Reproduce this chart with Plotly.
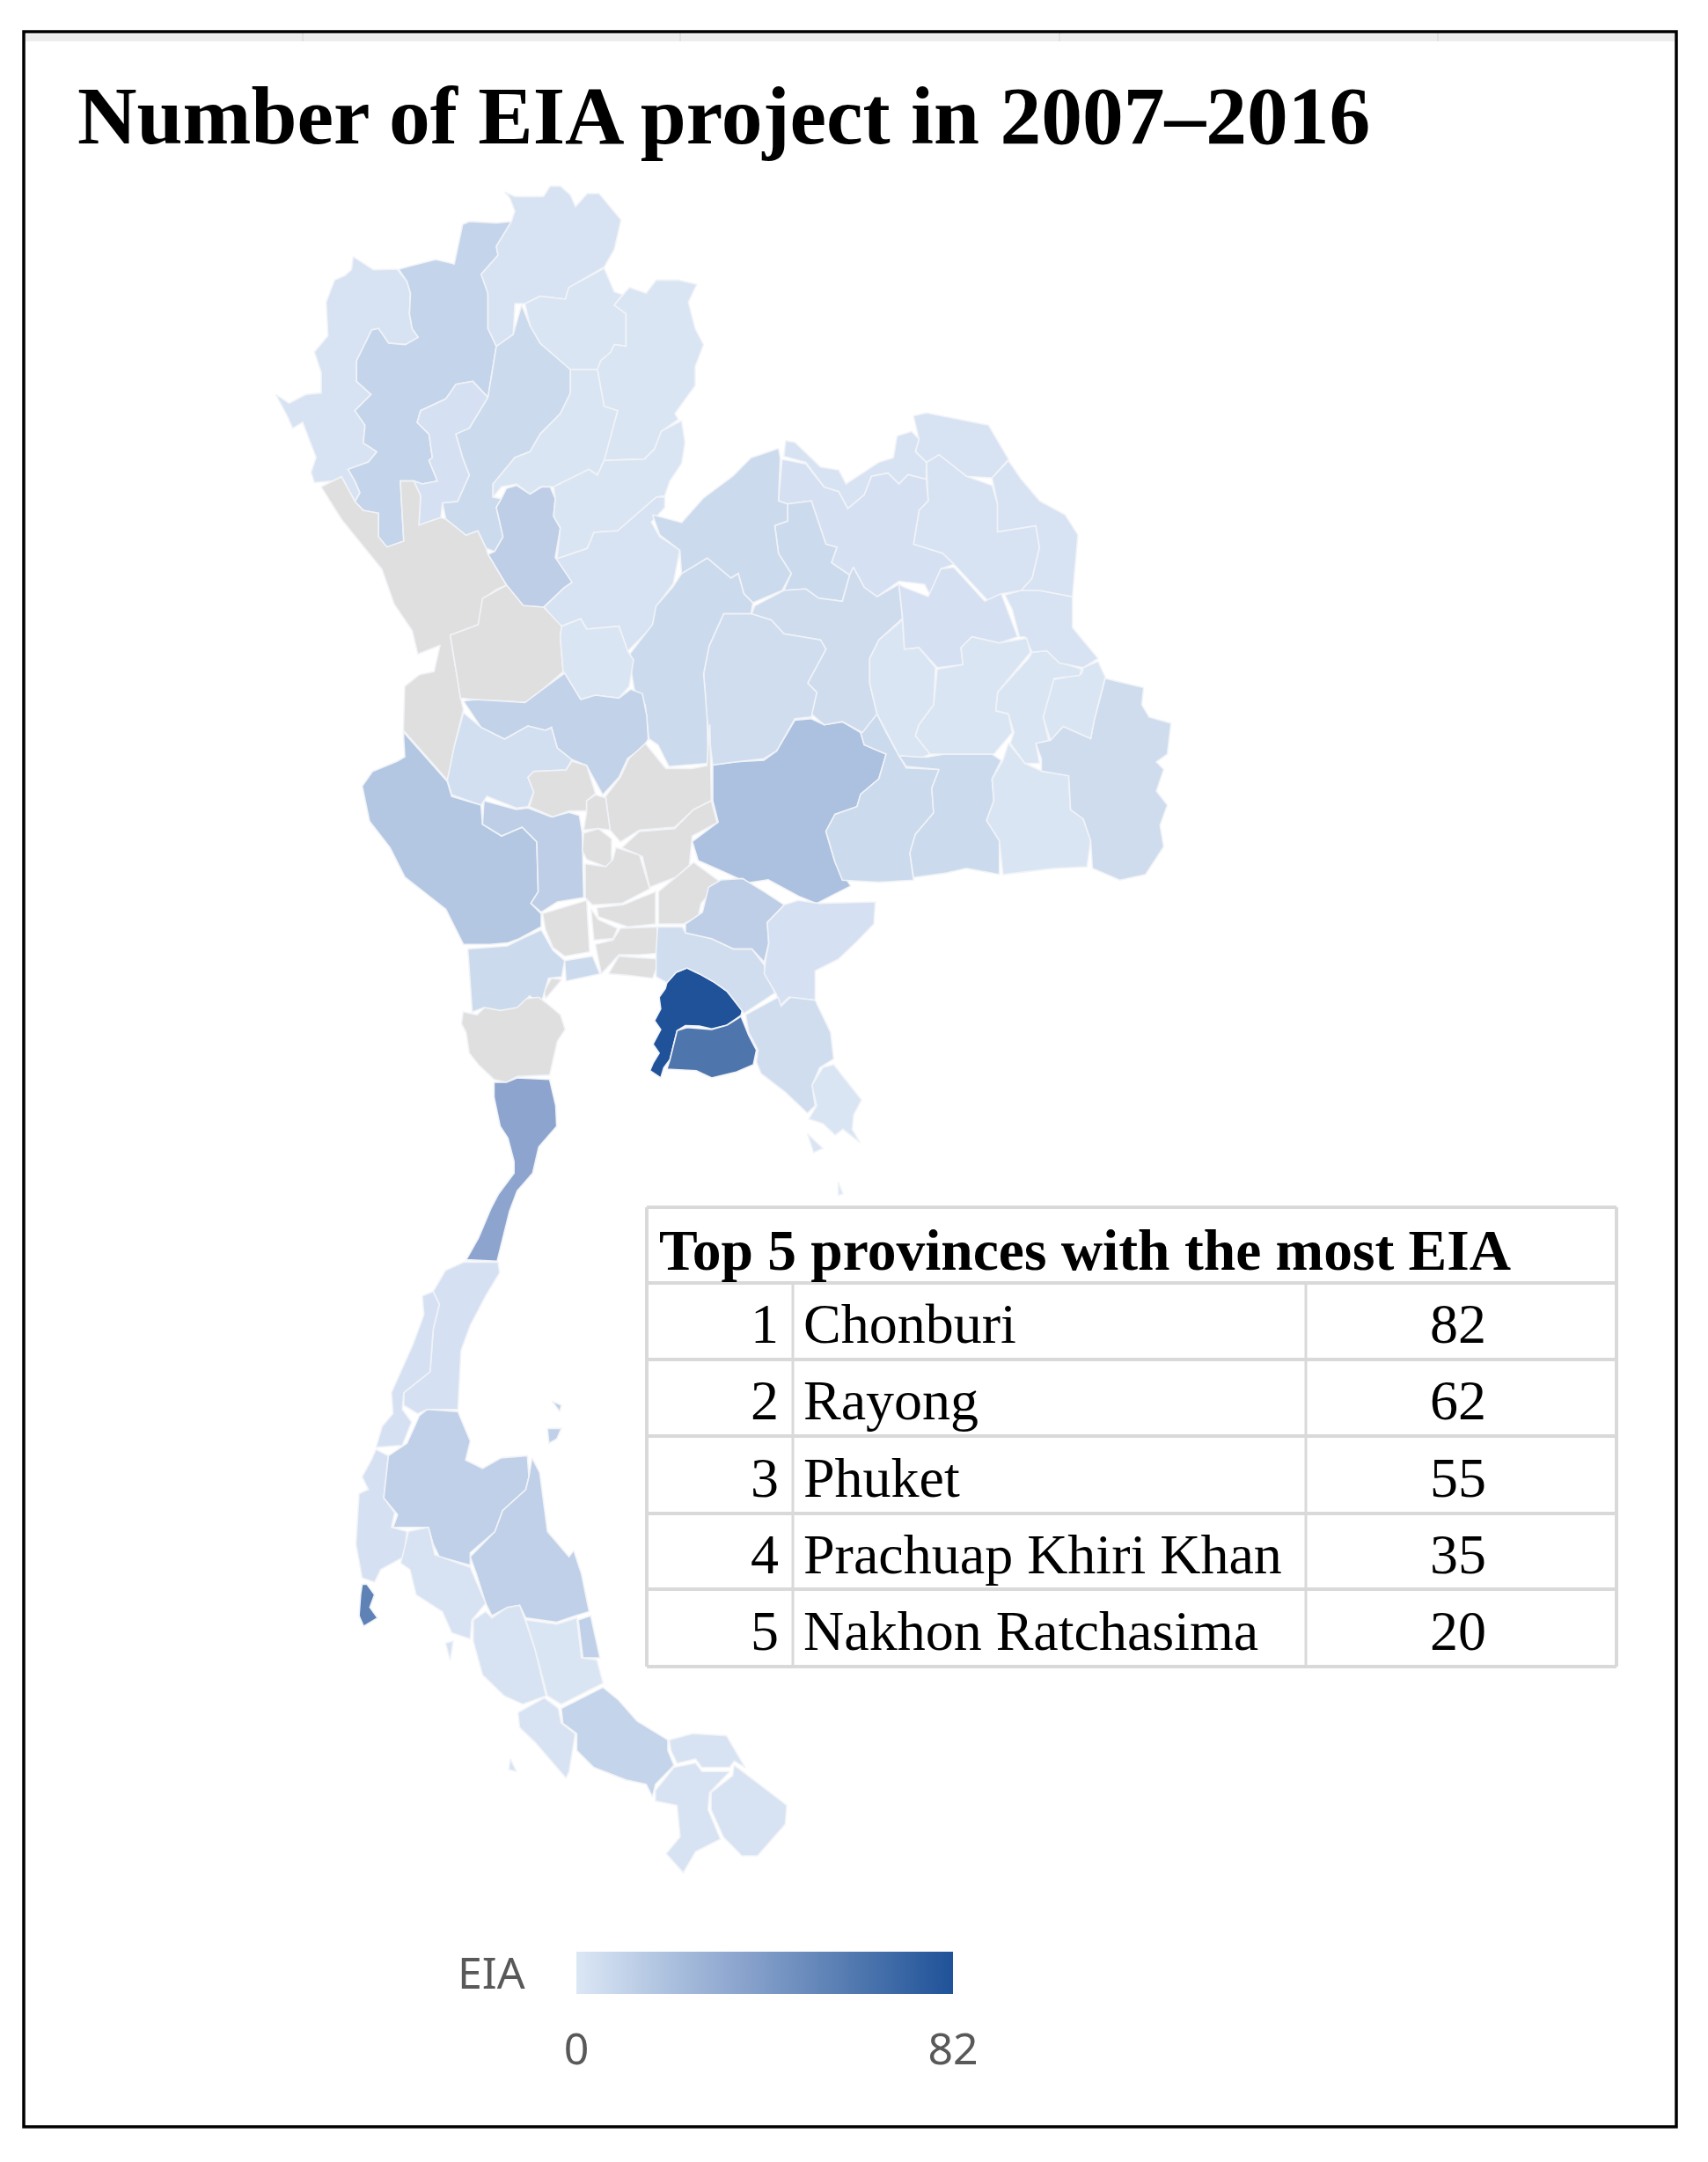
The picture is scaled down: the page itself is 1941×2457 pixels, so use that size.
import plotly.graph_objects as go
from plotly.colors import sample_colorscale

# page is drawn in reference pixels
PAGE_W = 1941
PAGE_H = 2457

TITLE = "Number of EIA project in 2007–2016"
TABLE_TITLE = "Top 5 provinces with the most EIA"
TOP_RANK = [1, 2, 3, 4, 5]
TOP_NAMES = ["Chonburi", "Rayong", "Phuket", "Prachuap Khiri Khan", "Nakhon Ratchasima"]
TOP_VALUES = [82, 62, 55, 35, 20]

# None = no data (grey on the map)
EIA = {
    "Mae Hong Son": 2, "Chiang Mai": 10, "Lamphun": 3, "Lampang": 7, "Chiang Rai": 2,
    "Phayao": 1, "Nan": 1, "Phrae": 1, "Sukhothai": 13, "Uttaradit": 1, "Phitsanulok": 2,
    "Tak": None, "Kamphaeng Phet": None, "Phichit": 1, "Nakhon Sawan": 11, "Uthai Thani": 4,
    "Kanchanaburi": 17, "Suphan Buri": 13, "Chai Nat": None, "Lopburi": None, "Sing Buri": None,
    "Ang Thong": None, "Ayutthaya": None, "Saraburi": None, "Nakhon Nayok": None,
    "Pathum Thani": None, "Nonthaburi": None, "Nakhon Pathom": None, "Bangkok": None,
    "Samut Prakan": None, "Samut Sakhon": 7, "Samut Songkhram": None, "Ratchaburi": 7,
    "Phetchaburi": None, "Prachuap Khiri Khan": 35, "Chonburi": 82, "Rayong": 62,
    "Chachoengsao": 5, "Prachinburi": 13, "Sa Kaeo": 3, "Chanthaburi": 5, "Trat": 1,
    "Ko Chang": 1, "Ko Kut": 1, "Nakhon Ratchasima": 20, "Buriram": 7, "Surin": 7,
    "Si Sa Ket": 1, "Ubon Ratchathani": 6, "Amnat Charoen": 1, "Yasothon": 1, "Mukdahan": 2,
    "Sakon Nakhon": 2, "Nakhon Phanom": 2, "Bueng Kan": 2, "Nong Khai": 2, "Udon Thani": 3,
    "Nong Bua Lamphu": 7, "Loei": 7, "Khon Kaen": 6, "Chaiyaphum": 5, "Phetchabun": 7,
    "Maha Sarakham": 1, "Kalasin": 3, "Roi Et": 1, "Chumphon": 3, "Ranong": 3, "Phang Nga": 3,
    "Surat Thani": 12, "Ko Samui": 12, "Ko Pha Ngan": 12, "Nakhon Si Thammarat": 12,
    "Krabi": 2, "Ko Lanta": 2, "Trang": 2, "Phatthalung": 1, "Songkhla Lake": 12, "Satun": 2,
    "Ko Tarutao": 2, "Songkhla": 10, "Pattani": 2, "Yala": 2, "Narathiwat": 2, "Phuket": 55,
}

# outlines were traced on zoomed crops: left, top, x zoom, y zoom of each crop
CROPS = {
    "north": (300, 200, 2.613, 3.0),
    "isan": (700, 450, 2.41, 2.85),
    "central": (380, 680, 3.0, 3.0),
    "east": (500, 1000, 2.85, 3.0),
    "south": (380, 1420, 2.85, 2.09),
}

NORTH = {
    "Mae Hong Son": [(265,275),(325,320),(395,318),(425,360),(435,400),(432,470),(440,520),(458,550),(420,575),(370,570),(340,520),(320,525),(275,630),(275,700),(318,745),(270,800),(300,850),(295,910),(335,940),(310,975),(250,1000),(270,1040),(285,1080),(270,1110),(230,1025),(205,1040),(150,1045),(140,1010),(155,960),(125,870),(115,840),(85,860),(70,820),(35,745),(75,775),(125,745),(170,740),(170,670),(150,600),(190,545),(185,430),(210,355),(240,340),(260,320)],
    "Chiang Mai": [(400,318),(440,305),(510,285),(565,300),(590,165),(610,155),(690,160),(735,155),(690,240),(695,270),(645,335),(665,400),(665,520),(690,580),(680,650),(665,755),(620,700),(570,710),(540,760),(465,800),(455,840),(490,880),(500,960),(490,970),(515,1040),(470,1050),(445,1040),(405,1040),(415,1245),(365,1265),(340,1230),(340,1150),(295,1140),(270,1110),(285,1080),(270,1040),(250,1000),(310,975),(335,940),(295,910),(300,850),(270,800),(318,745),(275,700),(275,630),(320,525),(340,520),(370,570),(420,575),(458,550),(440,520),(432,470),(435,400),(425,360)],
    "Lamphun": [(570,710),(620,700),(665,755),(610,860),(570,880),(590,960),(610,1020),(575,1110),(530,1115),(525,1165),(460,1190),(465,1090),(445,1040),(470,1050),(515,1040),(490,970),(500,960),(490,880),(455,840),(465,800),(540,760)],
    "Lampang": [(765,440),(790,510),(820,570),(910,660),(910,740),(880,810),(820,880),(790,940),(745,960),(680,1050),(680,1095),(705,1100),(690,1130),(710,1230),(685,1280),(660,1270),(635,1210),(600,1225),(540,1170),(530,1115),(575,1110),(610,1020),(590,960),(570,880),(610,860),(665,755),(680,650),(690,580),(740,540)],
    "Chiang Rai": [(715,55),(745,70),(830,70),(850,35),(880,35),(910,65),(925,105),(960,60),(995,60),(1060,150),(1040,250),(1010,310),(905,380),(895,420),(820,410),(775,435),(745,435),(740,540),(690,580),(665,520),(665,400),(645,335),(695,270),(690,240),(735,155),(745,120),(730,75)],
    "Phayao": [(775,435),(820,410),(895,420),(905,380),(1010,315),(1040,395),(1065,405),(1040,440),(1075,470),(1075,580),(1040,575),(1030,600),(1000,630),(990,660),(910,660),(820,570),(790,510)],
    "Nan": [(1085,380),(1135,400),(1165,355),(1230,355),(1285,370),(1260,430),(1280,520),(1305,575),(1280,650),(1280,715),(1220,810),(1230,830),(1180,870),(1160,930),(1130,965),(1010,970),(1050,800),(1010,785),(990,660),(1000,630),(1030,600),(1040,575),(1075,580),(1075,470),(1040,440),(1065,405)],
    "Phrae": [(910,660),(990,660),(1010,785),(1050,800),(1010,970),(990,1020),(965,1000),(860,1060),(820,1060),(790,1085),(750,1050),(705,1060),(680,1095),(680,1050),(745,960),(790,940),(820,880),(880,810),(910,740)],
    "Sukhothai": [(720,1065),(750,1055),(790,1085),(825,1060),(850,1060),(865,1100),(860,1160),(880,1200),(865,1300),(915,1385),(890,1405),(830,1470),(770,1465),(720,1395),(665,1290),(685,1280),(710,1230),(690,1130),(705,1100)],
    "Uttaradit": [(860,1060),(965,1000),(990,1020),(1010,970),(1130,965),(1160,930),(1180,870),(1240,835),(1250,910),(1240,980),(1205,1040),(1190,1090),(1165,1095),(1050,1210),(980,1215),(960,1270),(870,1305),(880,1200),(860,1160),(865,1100)],
    "Phitsanulok": [(870,1305),(960,1270),(980,1215),(1050,1210),(1165,1095),(1190,1095),(1190,1130),(1150,1180),(1175,1230),(1235,1275),(1215,1390),(1170,1460),(1158,1530),(1080,1620),(1054,1535),(958,1545),(941,1510),(880,1535),(832,1470),(890,1405),(915,1385),(865,1300)],
    "Tak": [(170,1060),(205,1040),(230,1025),(270,1110),(295,1140),(340,1150),(340,1230),(365,1265),(415,1245),(405,1040),(445,1040),(465,1090),(460,1190),(525,1165),(540,1170),(600,1225),(635,1210),(660,1270),(665,1290),(720,1395),(690,1410),(653,1440),(636,1530),(553,1565),(584,1780),(592,1820),(566,1940),(545,2060),(414,1890),(418,1740),(462,1700),(505,1690),(523,1600),(457,1630),(440,1550),(387,1460),(350,1340),(300,1270),(230,1170)],
}

ISAN = {
    "Nakhon Ratchasima": [(265,1195),(330,1185),(405,1180),(440,1150),(490,1050),(535,1045),(570,1065),(620,1055),(670,1090),(680,1130),(740,1160),(720,1240),(670,1290),(660,1330),(600,1355),(575,1410),(600,1510),(643,1587),(549,1644),(500,1620),(417,1567),(361,1577),(281,1534),(225,1505),(209,1443),(280,1380),(265,1310)],
    "Buriram": [(715,1030),(740,1090),(775,1165),(795,1205),(885,1210),(865,1270),(870,1350),(820,1420),(805,1480),(815,1568),(720,1575),(620,1568),(600,1510),(575,1410),(600,1355),(660,1330),(670,1290),(720,1240),(740,1160),(680,1130),(670,1090)],
    "Surin": [(885,1210),(795,1200),(775,1165),(850,1170),(900,1160),(1030,1160),(1055,1180),(1030,1240),(1035,1310),(1015,1375),(1050,1440),(1050,1550),(960,1530),(905,1545),(815,1560),(805,1480),(820,1420),(870,1350),(865,1270)],
    "Si Sa Ket": [(1060,1180),(1075,1125),(1120,1190),(1165,1215),(1240,1230),(1245,1340),(1280,1370),(1300,1440),(1290,1525),(1200,1530),(1060,1550),(1050,1440),(1015,1375),(1035,1310),(1030,1240)],
    "Ubon Ratchathani": [(1150,1125),(1190,1115),(1225,1070),(1300,1110),(1310,1050),(1340,915),(1445,945),(1440,1000),(1460,1040),(1520,1060),(1510,1160),(1480,1185),(1500,1210),(1480,1280),(1510,1325),(1490,1390),(1500,1460),(1450,1550),(1380,1568),(1305,1530),(1300,1440),(1280,1370),(1245,1340),(1240,1230),(1165,1215),(1165,1175)],
    "Amnat Charoen": [(1195,920),(1275,900),(1280,880),(1320,860),(1340,910),(1310,1050),(1300,1110),(1225,1070),(1190,1115),(1170,1040)],
    "Yasothon": [(1140,830),(1180,825),(1210,860),(1275,885),(1270,905),(1200,915),(1170,1040),(1185,1115),(1150,1125),(1160,1190),(1120,1190),(1080,1125),(1090,1090),(1075,1030),(1040,1020),(1045,960),(1130,850)],
    "Mukdahan": [(1065,645),(1110,630),(1160,630),(1250,650),(1250,750),(1320,850),(1280,880),(1215,865),(1180,825),(1140,830),(1120,780),(1105,780),(1085,690)],
    "Sakon Nakhon": [(815,480),(830,370),(855,340),(850,215),(885,190),(960,260),(1030,290),(1045,350),(1045,440),(1150,420),(1160,490),(1140,590),(1110,630),(1060,640),(1020,665),(970,600),(930,550),(895,510)],
    "Nakhon Phanom": [(1030,265),(1075,210),(1110,270),(1160,340),(1230,385),(1265,450),(1250,650),(1160,630),(1110,630),(1140,590),(1160,490),(1150,420),(1045,440),(1045,350)],
    "Bueng Kan": [(815,65),(850,55),(1020,95),(1075,205),(1030,265),(960,260),(885,190),(850,215),(820,180),(830,140)],
    "Nong Khai": [(465,145),(490,150),(560,230),(610,240),(630,285),(720,215),(760,200),(770,130),(810,115),(830,140),(820,180),(850,215),(850,270),(800,255),(775,285),(745,250),(700,260),(680,320),(635,365),(610,310),(570,295),(520,215),(460,195)],
    "Udon Thani": [(455,205),(520,220),(570,295),(610,310),(635,365),(680,320),(700,260),(745,250),(775,285),(800,255),(850,270),(855,340),(830,370),(815,480),(895,510),(925,545),(890,560),(865,655),(845,610),(775,600),(715,650),(680,620),(650,555),(640,580),(590,540),(605,490),(575,480),(535,340),(470,350),(445,340)],
    "Nong Bua Lamphu": [(470,350),(535,340),(575,480),(605,490),(590,540),(640,580),(620,665),(555,655),(520,625),(460,630),(480,575),(445,510),(435,420),(470,405)],
    "Loei": [(100,385),(180,410),(240,330),(320,260),(370,200),(445,170),(450,200),(445,340),(470,350),(470,405),(435,420),(445,510),(480,575),(455,630),(375,670),(350,640),(335,575),(315,590),(250,525),(180,580),(175,500),(120,450)],
    "Khon Kaen": [(380,680),(460,630),(520,625),(555,655),(620,665),(640,580),(650,555),(680,620),(715,650),(775,610),(785,720),(720,790),(695,850),(695,930),(715,1030),(675,1090),(620,1055),(570,1065),(535,1030),(550,960),(525,930),(575,820),(560,790),(460,770),(425,725),(370,710)],
    "Chaiyaphum": [(295,705),(370,705),(425,725),(460,770),(560,790),(575,820),(525,930),(550,960),(535,1040),(490,1045),(440,1150),(405,1175),(330,1185),(265,1195),(250,1050),(240,1020),(245,970),(240,900),(255,810)],
    "Phetchabun": [(180,575),(250,525),(315,590),(335,575),(350,640),(375,670),(370,705),(295,705),(255,810),(240,900),(245,970),(250,1050),(252,1190),(145,1200),(115,1130),(90,1110),(80,1000),(50,950),(35,840),(100,740),(110,680),(155,620)],
    "Maha Sarakham": [(785,725),(790,820),(830,815),(875,880),(870,1000),(830,1065),(820,1100),(860,1160),(840,1170),(775,1165),(715,1030),(695,930),(695,850),(720,790)],
    "Kalasin": [(790,620),(855,650),(890,560),(925,555),(1010,665),(1055,640),(1100,780),(1050,800),(975,780),(945,815),(950,870),(880,880),(830,815),(790,820),(785,720),(775,610)],
    "Roi Et": [(880,885),(950,870),(945,815),(975,780),(1050,800),(1125,785),(1135,830),(1045,960),(1040,1020),(1075,1030),(1085,1090),(1035,1160),(900,1160),(860,1160),(820,1100),(830,1065),(870,1000)],
}

CENTRAL = {
    "Kamphaeng Phet": [(505,0),(587,-45),(644,25),(713,30),(775,95),(770,130),(780,250),(710,310),(650,355),(570,350),(520,350),(480,345),(430,340),(395,125),(490,90)],
    "Phichit": [(775,95),(840,70),(860,105),(970,95),(1000,180),(1020,210),(1005,300),(970,340),(890,330),(840,345),(780,250),(770,130)],
    "Nakhon Sawan": [(440,350),(480,345),(570,350),(650,355),(710,310),(785,255),(840,345),(890,330),(970,340),(1010,310),(1050,325),(1065,400),(1070,480),(1050,510),(1000,545),(970,610),(915,670),(860,570),(810,550),(760,510),(740,440),(720,450),(660,435),(580,480),(500,440)],
    "Uthai Thani": [(440,390),(500,440),(580,480),(660,435),(720,450),(740,440),(760,510),(810,550),(790,585),(680,590),(660,610),(680,660),(660,710),(620,715),(520,675),(500,705),(400,670),(385,620),(410,500)],
    "Kanchanaburi": [(235,455),(385,625),(400,675),(500,705),(505,770),(570,810),(640,780),(690,830),(695,1000),(670,1040),(705,1075),(705,1120),(630,1160),(590,1175),(530,1180),(440,1180),(380,1060),(240,950),(190,850),(120,760),(95,640),(130,590),(215,555),(240,540)],
    "Suphan Buri": [(510,690),(620,720),(660,715),(740,745),(800,730),(835,740),(845,800),(850,1020),(760,1035),(705,1070),(670,1040),(695,1000),(690,830),(640,780),(570,810),(505,770)],
    "Chai Nat": [(680,590),(790,585),(810,555),(860,570),(890,665),(860,690),(860,725),(800,725),(745,745),(665,710),(680,660),(660,610)],
    "Lopburi": [(925,675),(975,610),(1005,545),(1060,495),(1130,580),(1220,580),(1270,570),(1280,430),(1285,690),(1225,720),(1160,780),(1040,790),(975,830),(940,790),(930,720)],
    "Sing Buri": [(860,690),(890,670),(925,680),(930,720),(940,790),(900,785),(850,790),(860,730)],
    "Ang Thong": [(850,800),(900,785),(945,820),(945,915),(925,915),(860,890),(845,860)],
    "Ayutthaya": [(855,905),(925,915),(950,890),(960,850),(1040,875),(1075,990),(980,1040),(880,1045),(855,1020)],
    "Saraburi": [(980,850),(1040,795),(1160,785),(1225,720),(1285,690),(1305,765),(1220,810),(1210,910),(1165,950),(1075,985),(1050,880)],
    "Nakhon Nayok": [(1105,1000),(1165,950),(1225,900),(1320,970),(1285,1000),(1250,1040),(1240,1085),(1190,1110),(1105,1110)],
    "Pathum Thani": [(895,1055),(985,1045),(1095,1000),(1095,1110),(1000,1120),(900,1085)],
    "Nonthaburi": [(875,1060),(900,1095),(965,1125),(950,1160),(885,1165)],
    "Nakhon Pathom": [(710,1075),(860,1030),(870,1205),(785,1220),(745,1190),(720,1130)],
    "Bangkok": [(890,1180),(950,1165),(975,1125),(1100,1120),(1105,1210),(1040,1215),(970,1215),(930,1260),(910,1280)],
    "Samut Prakan": [(935,1280),(970,1220),(1040,1225),(1110,1230),(1085,1295),(1000,1285)],
    "Samut Sakhon": [(785,1235),(880,1220),(905,1280),(790,1305)],
    "Samut Songkhram": [(740,1295),(775,1300),(720,1365),(715,1340)],
    "Ratchaburi": [(455,1195),(530,1190),(590,1185),(630,1165),(705,1130),(745,1200),(785,1235),(775,1290),(730,1295),(705,1380),(665,1355),(630,1395),(560,1415),(510,1395),(470,1410)],
}

EAST = {
    "Phetchaburi": [(70,490),(75,450),(120,460),(145,435),(195,445),(250,435),(280,405),(320,400),(345,420),(390,460),(405,510),(380,550),(355,665),(250,670),(215,690),(175,680),(125,630),(95,590),(85,520)],
    "Prachuap Khiri Khan": [(175,690),(215,690),(250,675),(355,680),(375,770),(378,840),(320,910),(300,1000),(250,1060),(225,1130),(185,1300),(85,1295),(125,1220),(165,1120),(190,1070),(240,1000),(240,960),(220,880),(195,840),(175,740)],
    "Chonburi": [(735,350),(765,315),(800,300),(840,320),(890,350),(930,380),(980,440),(975,462),(930,495),(880,508),(840,498),(795,497),(768,514),(745,612),(725,640),(715,675),(680,650),(690,625),(710,590),(690,560),(715,510),(695,480),(715,440),(710,400),(730,370)],
    "Rayong": [(768,514),(800,503),(880,510),(930,495),(975,465),(1000,530),(1025,580),(1015,630),(960,655),(880,675),(830,650),(735,645),(745,612)],
    "Chachoengsao": [(700,330),(700,240),(705,160),(785,160),(795,180),(880,200),(950,235),(1010,235),(1050,290),(1055,320),(1085,385),(985,455),(930,380),(890,350),(840,320),(800,300),(765,315),(735,350)],
    "Prachinburi": [(795,150),(850,110),(870,25),(910,0),(980,-5),(1050,40),(1115,85),(1060,145),(1065,215),(1050,280),(1010,235),(950,235),(880,200),(795,180)],
    "Sa Kaeo": [(1115,85),(1160,70),(1230,80),(1410,75),(1405,150),(1350,210),(1290,270),(1215,310),(1215,410),(1130,400),(1100,430),(1090,390),(1050,320),(1055,270),(1065,215),(1060,145)],
    "Chanthaburi": [(990,460),(1095,400),(1105,430),(1135,400),(1215,410),(1265,520),(1275,610),(1230,640),(1205,700),(1215,770),(1190,795),(1120,725),(1040,660),(1025,620),(1030,580),(1000,520)],
    "Trat": [(1240,640),(1275,630),(1365,750),(1340,800),(1335,850),(1360,895),(1305,850),(1280,870),(1240,830),(1195,815),(1220,770),(1205,700)],
    "Ko Chang": [(1190,865),(1240,915),(1210,930)],
    "Ko Kut": [(1290,1030),(1305,1070),(1290,1075)],
}

SOUTH = {
    "Chumphon": [(420,30),(530,30),(535,55),(490,110),(440,180),(410,240),(400,380),(300,380),(270,390),(225,370),(225,340),(310,290),(320,190),(340,130),(320,100),(360,50)],
    "Ranong": [(285,110),(320,100),(340,130),(320,190),(310,290),(225,340),(220,380),(250,410),(220,465),(135,470),(155,420),(190,390),(185,340),(255,225),(290,155)],
    "Phang Nga": [(120,500),(135,475),(175,490),(160,590),(195,625),(185,660),(235,670),(225,730),(150,760),(130,790),(90,780),(70,700),(80,580),(110,570),(90,540)],
    "Surat Thani": [(275,395),(300,380),(400,385),(440,455),(425,500),(480,520),(540,495),(625,490),(630,540),(620,570),(545,620),(520,670),(440,720),(440,750),(340,730),(320,700),(305,660),(240,660),(190,660),(205,630),(160,590),(175,490),(235,460),(260,420)],
    "Ko Samui": [(690,425),(735,425),(720,450),(695,460)],
    "Ko Pha Ngan": [(705,360),(735,370),(730,385)],
    "Nakhon Si Thammarat": [(640,495),(665,530),(690,670),(760,730),(775,715),(800,770),(825,860),(780,870),(720,885),(620,875),(600,845),(560,850),(510,870),(490,840),(460,770),(440,730),(520,670),(545,620),(620,570),(630,540)],
    "Krabi": [(240,670),(305,660),(325,725),(440,755),(460,790),(490,840),(445,880),(440,925),(380,910),(350,860),(265,820),(245,760),(215,745)],
    "Ko Lanta": [(360,935),(385,930),(375,975)],
    "Trang": [(450,880),(490,860),(510,875),(560,850),(600,845),(620,885),(650,950),(685,1060),(610,1080),(550,1060),(480,1010),(450,930)],
    "Phatthalung": [(620,880),(720,890),(785,875),(800,970),(850,975),(870,1030),(735,1080),(690,1060),(650,950)],
    "Songkhla Lake": [(790,880),(830,870),(860,970),(805,970)],
    "Satun": [(595,1100),(680,1065),(725,1090),(735,1125),(780,1150),(760,1240),(750,1255),(650,1170),(600,1135)],
    "Ko Tarutao": [(570,1210),(590,1240),(565,1235)],
    "Songkhla": [(735,1090),(870,1040),(920,1070),(980,1120),(1080,1165),(1080,1190),(1100,1225),(1040,1270),(1030,1300),(1010,1270),(945,1260),(840,1230),(785,1190),(785,1150),(740,1125)],
    "Pattani": [(1085,1165),(1160,1150),(1270,1155),(1330,1230),(1295,1215),(1280,1230),(1190,1230),(1170,1210),(1110,1220),(1090,1190)],
    "Yala": [(1040,1285),(1100,1230),(1170,1220),(1190,1240),(1280,1240),(1215,1290),(1210,1330),(1250,1400),(1170,1430),(1130,1480),(1075,1435),(1120,1395),(1110,1320),(1040,1310)],
    "Narathiwat": [(1295,1225),(1340,1250),(1465,1320),(1460,1365),(1370,1440),(1320,1440),(1260,1395),(1220,1330),(1220,1290),(1290,1250)],
    "Phuket": [(90,795),(105,795),(130,820),(115,850),(140,875),(95,895),(80,870),(85,820)],
}

OUTLINES = {"north": NORTH, "isan": ISAN, "central": CENTRAL, "east": EAST, "south": SOUTH}

COLORSCALE = [
    [0.0, "#DCE7F5"], [0.25, "#ABC0DE"], [0.43, "#8CA5CE"], [0.75, "#4F77AE"], [1.0, "#1F5299"],
]
NO_DATA = "#DFDFDF"
BORDER = "#F1F3F7"
GRID = "#D9D9D9"
EIA_MAX = 82

fig = go.Figure()

# --- map ---
for crop, provinces in OUTLINES.items():
    left, top, zoom_x, zoom_y = CROPS[crop]
    for name, points in provinces.items():
        val = EIA[name]
        color = NO_DATA if val is None else sample_colorscale(COLORSCALE, val / EIA_MAX)[0]
        xs = [left + p[0] / zoom_x for p in points] + [left + points[0][0] / zoom_x]
        ys = [top + p[1] / zoom_y for p in points] + [top + points[0][1] / zoom_y]
        fig.add_trace(go.Scatter(
            x=xs, y=ys, mode="lines", fill="toself", fillcolor=color,
            line=dict(color=BORDER, width=1.6), name=name,
            text=f"{name}: {'no data' if val is None else val}", hoverinfo="text",
            showlegend=False,
        ))

# --- colour bar (empty trace, only carries the scale) ---
fig.add_trace(go.Scatter(
    x=[None, None], y=[None, None], mode="markers", showlegend=False, hoverinfo="skip",
    marker=dict(
        color=[0, EIA_MAX], cmin=0, cmax=EIA_MAX, colorscale=COLORSCALE, showscale=True,
        colorbar=dict(
            orientation="h", lenmode="pixels", len=428, thickness=48, thicknessmode="pixels",
            x=869 / PAGE_W, xanchor="center", y=1 - 2218 / PAGE_H, yanchor="top",
            xpad=0, ypad=0, outlinewidth=0, borderwidth=0,
            tickmode="array", tickvals=[0, EIA_MAX], ticktext=["0", "82"],
            ticks="outside", ticklen=20, tickcolor="rgba(0,0,0,0)",
            tickfont=dict(family="Noto Sans", size=50, color="#595959"),
        ),
    ),
))

# --- frame and table lines ---
shapes = [
    dict(type="rect", x0=27, x1=1905, y0=36, y1=2417, line=dict(color="black", width=3.5)),
    dict(type="rect", x0=29, x1=1903, y0=39, y1=47, fillcolor="#EDEDED", line_width=0),
]
for sep_x in [344, 773, 1204, 1634]:
    shapes.append(dict(type="line", x0=sep_x, x1=sep_x, y0=38, y1=47, line=dict(color="#D4D4D4", width=1)))

table_left, table_right = 735, 1837
table_rows = [1372, 1458, 1545, 1632, 1720, 1806, 1894]
table_cols = [901, 1484]
for row_y in table_rows:
    shapes.append(dict(type="line", x0=table_left, x1=table_right, y0=row_y, y1=row_y, line=dict(color=GRID, width=4)))
for col_x in [table_left, table_right]:
    shapes.append(dict(type="line", x0=col_x, x1=col_x, y0=table_rows[0], y1=table_rows[-1], line=dict(color=GRID, width=4)))
for col_x in table_cols:
    shapes.append(dict(type="line", x0=col_x, x1=col_x, y0=table_rows[1], y1=table_rows[-1], line=dict(color=GRID, width=3)))

# --- text ---
SERIF = "Liberation Serif"
notes = [
    dict(x=87, y=131, text=f"<b>{TITLE}</b>", xanchor="left", font=dict(family=SERIF, size=93.5, color="black")),
    dict(x=748, y=1421, text=f"<b>{TABLE_TITLE}</b>", xanchor="left", font=dict(family=SERIF, size=65.5, color="black")),
    dict(x=598, y=2241, text="EIA", xanchor="right", font=dict(family="Noto Sans", size=50, color="#595959")),
]
for i in range(5):
    mid_y = (table_rows[i + 1] + table_rows[i + 2]) / 2 + 3
    notes.append(dict(x=886, y=mid_y, text=str(TOP_RANK[i]), xanchor="right", font=dict(family=SERIF, size=64, color="black")))
    notes.append(dict(x=912, y=mid_y, text=TOP_NAMES[i], xanchor="left", font=dict(family=SERIF, size=64, color="black")))
    notes.append(dict(x=1657, y=mid_y, text=str(TOP_VALUES[i]), xanchor="center", font=dict(family=SERIF, size=64, color="black")))
for n in notes:
    n.update(xref="x", yref="y", yanchor="middle", showarrow=False, borderpad=0)

fig.update_layout(
    width=PAGE_W, height=PAGE_H,
    margin=dict(l=0, r=0, t=0, b=0),
    paper_bgcolor="white", plot_bgcolor="white",
    showlegend=False, shapes=shapes, annotations=notes,
    xaxis=dict(range=[0, PAGE_W], visible=False, fixedrange=True),
    yaxis=dict(range=[PAGE_H, 0], visible=False, fixedrange=True),
)

fig.write_html("out.html", config={"displayModeBar": False}, post_script="document.body.style.margin='0';")
